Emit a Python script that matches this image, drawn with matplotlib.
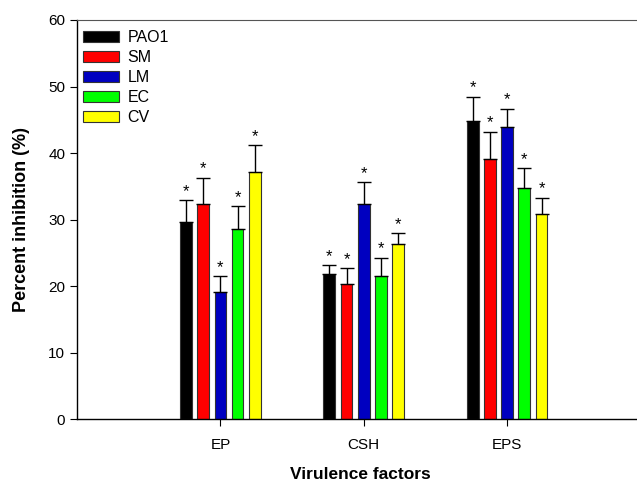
import numpy as np
import matplotlib.pyplot as plt

plt.rcParams['font.family'] = ['Liberation Sans', 'DejaVu Sans']

factors = ['EP', 'CSH', 'EPS']
strains = ['PAO1', 'SM', 'LM', 'EC', 'CV']
colors = ['#000000', '#ff0000', '#0000c0', '#00ff00', '#ffff00']

# mean percent inhibition per strain, in order EP, CSH, EPS
means = {
    'PAO1': [29.7, 21.8, 44.9],
    'SM': [32.4, 20.4, 39.1],
    'LM': [19.2, 32.4, 43.9],
    'EC': [28.6, 21.5, 34.8],
    'CV': [37.1, 26.3, 30.9],
}
errors = {
    'PAO1': [3.2, 1.4, 3.6],
    'SM': [3.9, 2.3, 4.1],
    'LM': [2.3, 3.2, 2.8],
    'EC': [3.4, 2.8, 2.9],
    'CV': [4.1, 1.7, 2.4],
}

fig = plt.figure(figsize=(6.37, 4.83), dpi=100)
ax = fig.add_axes([0.1209, 0.1315, 0.8891, 0.8271])

x = np.arange(1, len(factors) + 1)
step = 0.12
width = 0.082

for i, s in enumerate(strains):
    pos = x + (i - 2) * step
    m = np.array(means[s])
    e = np.array(errors[s])
    ax.bar(pos, m, width=width, color=colors[i], edgecolor='#333333',
           linewidth=0.8, label=s, zorder=2)
    ax.errorbar(pos, m, yerr=[np.zeros_like(e), e], fmt='none',
                ecolor='black', elinewidth=1, capsize=5, capthick=1, zorder=3)
    for p, top in zip(pos, m + e):
        ax.text(p, top + 0.2, '*', ha='center', va='bottom', fontsize=12)

ax.set_xlim(0, 3.95)
ax.set_ylim(0, 60)
ax.set_yticks(range(0, 61, 10))
ax.set_xticks(x)
ax.set_xticklabels(factors)
ax.tick_params(axis='both', direction='out', length=5, labelsize=11)
ax.tick_params(axis='x', pad=8)

ax.spines['right'].set_visible(False)
ax.spines['top'].set_color('#555555')
for sp in ['left', 'bottom']:
    ax.spines[sp].set_linewidth(1)

ax.set_xlabel('Virulence factors', fontsize=12.5, fontweight='bold', labelpad=11)
ax.set_ylabel('Percent inhibition (%)', fontsize=13, fontweight='bold', labelpad=13)

ax.legend(loc='upper left', bbox_to_anchor=(0, 0.988), frameon=False,
          fontsize=11.5, handlelength=2.25, handleheight=0.7,
          labelspacing=0.31, borderaxespad=0.0, borderpad=0.35,
          handletextpad=0.55)

fig.savefig('out.png', dpi=100)
